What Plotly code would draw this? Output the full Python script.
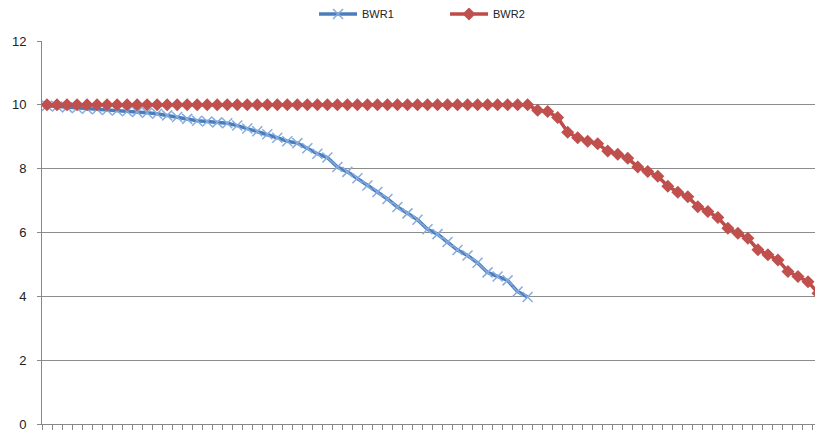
import plotly.graph_objects as go

categories = list(range(78))

bwr1 = [9.97, 9.95, 9.92, 9.90, 9.88, 9.86, 9.84, 9.82, 9.80, 9.78,
        9.75, 9.72, 9.67, 9.62, 9.56, 9.50, 9.48, 9.45, 9.42, 9.35,
        9.26, 9.17, 9.08, 8.97, 8.86, 8.80, 8.64, 8.47, 8.35, 8.05,
        7.90, 7.70, 7.47, 7.27, 7.05, 6.80, 6.60, 6.40, 6.10, 5.95,
        5.70, 5.45, 5.28, 5.05, 4.75, 4.62, 4.50, 4.15, 3.98]

bwr2 = [10.0] * 49 + [9.83, 9.79, 9.60, 9.14, 8.97, 8.86, 8.78, 8.55, 8.45, 8.33,
                      8.05, 7.91, 7.76, 7.45, 7.26, 7.12, 6.81, 6.66, 6.47, 6.13,
                      5.98, 5.82, 5.46, 5.30, 5.14, 4.78, 4.62, 4.46, 4.10]

y_ticks = [0, 2, 4, 6, 8, 10, 12]

fig = go.Figure()
fig.add_trace(go.Scatter(
    x=categories[:len(bwr1)], y=bwr1, name="BWR1", mode="lines+markers",
    line=dict(color="#4A7EBB", width=3.5),
    marker=dict(symbol="x-thin", size=10, line=dict(color="#86ACDF", width=1.5), color="#86ACDF"),
    cliponaxis=False,
))
fig.add_trace(go.Scatter(
    x=categories[:len(bwr2)], y=bwr2, name="BWR2", mode="lines+markers",
    line=dict(color="#BE4B48", width=3.5),
    marker=dict(symbol="diamond", size=10, color="#C0504D"),
    cliponaxis=False,
))

fig.update_layout(
    width=815, height=424,
    margin=dict(l=34, r=0, t=33, b=8),
    paper_bgcolor="white", plot_bgcolor="white",
    font=dict(family="Liberation Sans, Arial, sans-serif", size=12, color="#222"),
    legend=dict(orientation="h", xref="paper", x=0.3483, xanchor="left",
                yref="container", y=1 - 6 / 424, yanchor="middle",
                font=dict(size=11, color="#222"), entrywidth=78, itemwidth=38),
    showlegend=True,
)
fig.update_xaxes(
    range=[-0.5, 77.5], tickvals=[c - 0.5 for c in categories] + [77.5],
    showticklabels=False, ticks="outside", ticklen=5, tickcolor="#888",
    showline=True, linecolor="#888", linewidth=1, showgrid=False, zeroline=False,
)
fig.update_yaxes(
    range=[0, 12], tickvals=y_ticks, ticks="outside", ticklen=4, tickcolor="#888",
    showline=True, linecolor="#888", linewidth=1, showgrid=True, gridcolor="#8c8c8c",
    gridwidth=1, zeroline=False, tickfont=dict(size=13), ticklabelstandoff=8,
)

fig.write_html("out.html")
